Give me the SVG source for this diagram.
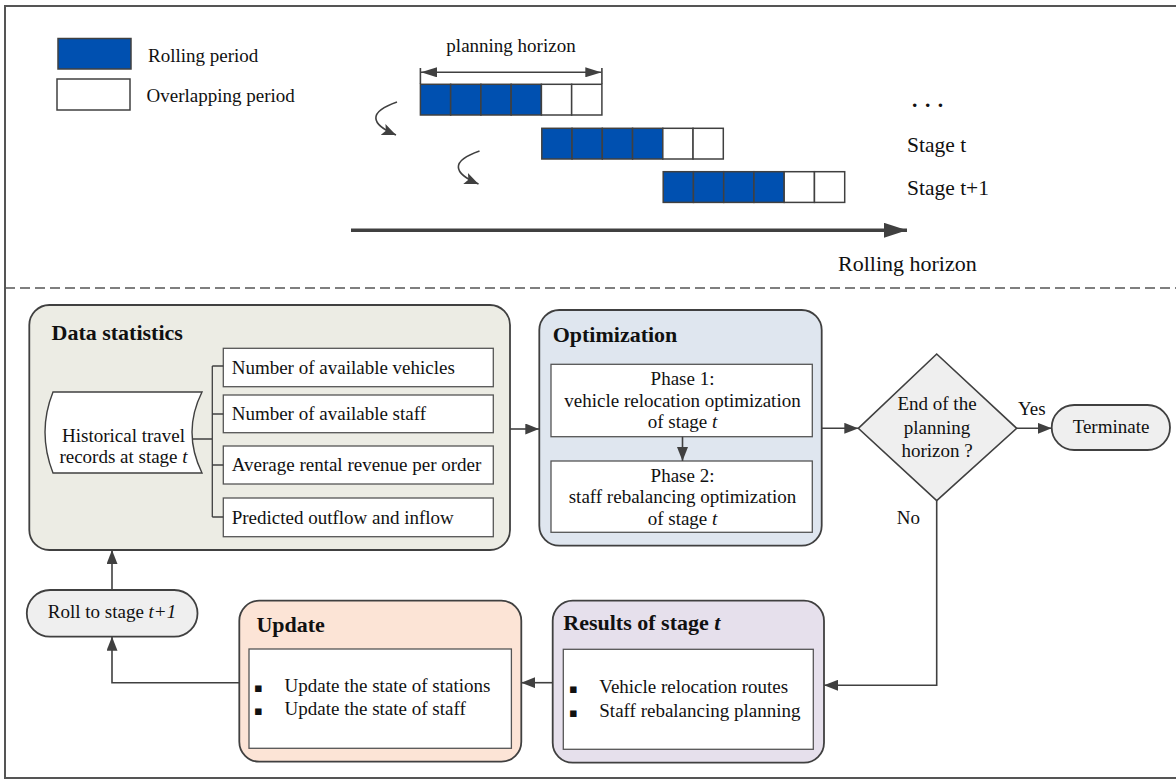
<svg xmlns="http://www.w3.org/2000/svg" width="1176" height="779" viewBox="0 0 1176 779">
<defs>
<style>
text{font-family:'Liberation Serif','Times New Roman',serif;fill:#111;}
.t19{font-size:19px;}
.hd{font-size:22px;font-weight:bold;}
.big{font-size:21.5px;}
.ln{stroke:#404040;stroke-width:1.6;fill:none;}
.box{stroke:#404040;stroke-width:1.8;}
.inner{fill:#fff;stroke:#555;stroke-width:1.3;}
.blue{fill:#0050b0;stroke:#404040;stroke-width:1.5;}
.wht{fill:#fff;stroke:#404040;stroke-width:1.5;}
.bul{font-family:'DejaVu Sans',sans-serif;font-size:13px;}
</style>
<marker id="arr" markerUnits="userSpaceOnUse" markerWidth="14" markerHeight="11" refX="14" refY="5.5" orient="auto">
<path d="M0,0 L14,5.5 L0,11 Z" fill="#404040"/>
</marker>
<marker id="arrD" markerUnits="userSpaceOnUse" markerWidth="16" markerHeight="10" refX="16" refY="5" orient="auto-start-reverse">
<path d="M0,0 L16,5 L0,10 Z" fill="#404040"/>
</marker>
<marker id="arrC" markerUnits="userSpaceOnUse" markerWidth="14" markerHeight="12" refX="14" refY="6" orient="auto">
<path d="M0,0 L14,6 L0,12 L3,6 Z" fill="#404040"/>
</marker>
<marker id="arrB" markerUnits="userSpaceOnUse" markerWidth="23" markerHeight="15" refX="23" refY="7.5" orient="auto">
<path d="M0,0 L23,7.5 L0,15 Z" fill="#404040"/>
</marker>
</defs>
<rect x="0" y="0" width="1176" height="779" fill="#fff"/>
<rect x="5" y="6" width="1180" height="772" fill="none" stroke="#555" stroke-width="2"/>
<line x1="5" y1="288" x2="1176" y2="288" stroke="#555" stroke-width="1.5" stroke-dasharray="10,5"/>

<g id="legend">
<rect x="58" y="38.5" width="73" height="30.5" class="blue"/>
<rect x="57" y="79" width="73" height="31" class="wht"/>
<text x="148" y="62" class="t19">Rolling period</text>
<text x="146.5" y="101.7" class="t19">Overlapping period</text>
</g>

<g id="planning-horizon">
<text x="511" y="51.7" class="t19" text-anchor="middle">planning horizon</text>
<line x1="420.4" y1="68" x2="420.4" y2="84" class="ln"/>
<line x1="601.9" y1="68" x2="601.9" y2="84" class="ln"/>
<line x1="421" y1="72.3" x2="601.3" y2="72.3" class="ln" marker-start="url(#arrD)" marker-end="url(#arrD)"/>
</g>

<g id="row1" transform="translate(420.4,84.3)">
<rect x="0" y="0" width="30.25" height="30.7" class="blue"/>
<rect x="30.25" y="0" width="30.25" height="30.7" class="blue"/>
<rect x="60.5" y="0" width="30.25" height="30.7" class="blue"/>
<rect x="90.75" y="0" width="30.25" height="30.7" class="blue"/>
<rect x="121" y="0" width="30.25" height="30.7" class="wht"/>
<rect x="151.25" y="0" width="30.25" height="30.7" class="wht"/>
</g>
<g id="row2" transform="translate(541.8,128.3)">
<rect x="0" y="0" width="30.25" height="30.7" class="blue"/>
<rect x="30.25" y="0" width="30.25" height="30.7" class="blue"/>
<rect x="60.5" y="0" width="30.25" height="30.7" class="blue"/>
<rect x="90.75" y="0" width="30.25" height="30.7" class="blue"/>
<rect x="121" y="0" width="30.25" height="30.7" class="wht"/>
<rect x="151.25" y="0" width="30.25" height="30.7" class="wht"/>
</g>
<g id="row3" transform="translate(663.2,171.7)">
<rect x="0" y="0" width="30.25" height="30.7" class="blue"/>
<rect x="30.25" y="0" width="30.25" height="30.7" class="blue"/>
<rect x="60.5" y="0" width="30.25" height="30.7" class="blue"/>
<rect x="90.75" y="0" width="30.25" height="30.7" class="blue"/>
<rect x="121" y="0" width="30.25" height="30.7" class="wht"/>
<rect x="151.25" y="0" width="30.25" height="30.7" class="wht"/>
</g>

<g id="stage-labels">
<text x="912" y="107" class="big" font-weight="bold" letter-spacing="7.5">...</text>
<text x="907" y="152" class="big">Stage t</text>
<text x="907" y="195" class="big">Stage t+1</text>
<text x="838" y="271" font-size="22">Rolling horizon</text>
</g>

<g id="timeline-connectors">
<path d="M397,102 C368,112 370,124 396,135" class="ln" stroke-width="1.8" marker-end="url(#arrC)"/>
<path d="M479.5,151 C450.5,161 452.5,173 478.5,184" class="ln" stroke-width="1.8" marker-end="url(#arrC)"/>
<line x1="351" y1="230.3" x2="907" y2="230.3" stroke="#404040" stroke-width="3.6" marker-end="url(#arrB)"/>
</g>

<g id="data-statistics">
<rect x="29.3" y="305" width="480.7" height="245" rx="20" fill="#ecece4" class="box"/>
<text x="51.5" y="339.5" class="hd">Data statistics</text>
<path d="M53,392 L202,392 Q182,432 202,473 L53,473 Q37,432 53,392 Z" fill="#fff" stroke="#404040" stroke-width="1.4"/>
<text x="123.5" y="441.7" class="t19" text-anchor="middle">Historical travel</text>
<text x="123.5" y="463.4" class="t19" text-anchor="middle">records at stage <tspan font-style="italic">t</tspan></text>
<rect x="223.3" y="348.3" width="270" height="38.4" class="inner"/>
<rect x="223.3" y="395" width="270" height="37.7" class="inner"/>
<rect x="223.3" y="446" width="270" height="38" class="inner"/>
<rect x="223.3" y="498" width="270" height="38.7" class="inner"/>
<text x="231.7" y="373.5" class="t19">Number of available vehicles</text>
<text x="231.7" y="420" class="t19">Number of available staff</text>
<text x="231.7" y="471" class="t19">Average rental revenue per order</text>
<text x="231.7" y="523.5" class="t19">Predicted outflow and inflow</text>
<path d="M193,439 H212.3 M212.3,366 V517 M212.3,366 H223.3 M212.3,414 H223.3 M212.3,465 H223.3 M212.3,517 H223.3" stroke="#404040" stroke-width="1.3" fill="none"/>
</g>

<g id="optimization">
<rect x="539.3" y="310" width="282.4" height="235.7" rx="20" fill="#dfe6ef" class="box"/>
<text x="552.7" y="341.7" class="hd">Optimization</text>
<rect x="551" y="364.3" width="261.3" height="72.4" class="inner"/>
<rect x="551" y="461" width="261.3" height="71.3" class="inner"/>
<text x="682.5" y="385" class="t19" text-anchor="middle">Phase 1:</text>
<text x="682.5" y="406.7" class="t19" text-anchor="middle">vehicle relocation optimization</text>
<text x="682.5" y="428.3" class="t19" text-anchor="middle">of stage <tspan font-style="italic">t</tspan></text>
<text x="682.5" y="481.7" class="t19" text-anchor="middle">Phase 2:</text>
<text x="682.5" y="503.3" class="t19" text-anchor="middle">staff rebalancing optimization</text>
<text x="682.5" y="525" class="t19" text-anchor="middle">of stage <tspan font-style="italic">t</tspan></text>
</g>

<g id="decision">
<path d="M858.3,428.3 L936.7,354 L1016.7,428.3 L936.7,500.7 Z" fill="#efefef" stroke="#404040" stroke-width="1.6"/>
<text x="937" y="410" class="t19" text-anchor="middle">End of the</text>
<text x="937" y="434" class="t19" text-anchor="middle">planning</text>
<text x="937" y="456.7" class="t19" text-anchor="middle">horizon ?</text>
</g>

<g id="terminate">
<rect x="1051.7" y="405" width="118.3" height="45" rx="22.5" fill="#efefef" class="box"/>
<text x="1111" y="433" class="t19" text-anchor="middle">Terminate</text>
</g>

<g id="results">
<rect x="552.7" y="600.7" width="271.3" height="162" rx="20" fill="#e6e0ec" class="box"/>
<text x="563.3" y="630" class="hd">Results of stage <tspan font-style="italic">t</tspan></text>
<rect x="563.3" y="649.3" width="250" height="100" class="inner"/>
<text x="569" y="693.3" class="bul">▪</text>
<text x="569" y="716.7" class="bul">▪</text>
<text x="599.3" y="693.3" class="t19">Vehicle relocation routes</text>
<text x="599.3" y="716.7" class="t19">Staff rebalancing planning</text>
</g>

<g id="update">
<rect x="239.3" y="600.7" width="282" height="161" rx="20" fill="#fce4d6" class="box"/>
<text x="256.4" y="631.7" class="hd">Update</text>
<rect x="249" y="649" width="262.4" height="99.3" class="inner"/>
<text x="254" y="691.7" class="bul">▪</text>
<text x="254" y="715" class="bul">▪</text>
<text x="284.6" y="691.7" class="t19">Update the state of stations</text>
<text x="284.6" y="715" class="t19">Update the state of staff</text>
</g>

<g id="roll">
<rect x="26.8" y="590" width="170.7" height="46.7" rx="23.3" fill="#efefef" class="box"/>
<text x="112" y="618.3" class="t19" text-anchor="middle">Roll to stage <tspan font-style="italic">t+1</tspan></text>
</g>

<g id="connectors">
<line x1="510" y1="429" x2="539.3" y2="429" class="ln" marker-end="url(#arr)"/>
<line x1="682.5" y1="436.7" x2="682.5" y2="461" class="ln" marker-end="url(#arr)"/>
<line x1="821.7" y1="428.3" x2="858.3" y2="428.3" class="ln" marker-end="url(#arr)"/>
<line x1="1016.7" y1="428.3" x2="1051.7" y2="428.3" class="ln" marker-end="url(#arr)"/>
<text x="1018" y="415" class="t19">Yes</text>
<polyline points="936.7,500.7 936.7,685.3 824,685.3" class="ln" marker-end="url(#arr)"/>
<text x="896.7" y="524" class="t19">No</text>
<line x1="552.7" y1="682.7" x2="521.3" y2="682.7" class="ln" marker-end="url(#arr)"/>
<polyline points="239.3,682.7 112,682.7 112,636.7" class="ln" marker-end="url(#arr)"/>
<line x1="112" y1="590" x2="112" y2="550" class="ln" marker-end="url(#arr)"/>
</g>
</svg>
